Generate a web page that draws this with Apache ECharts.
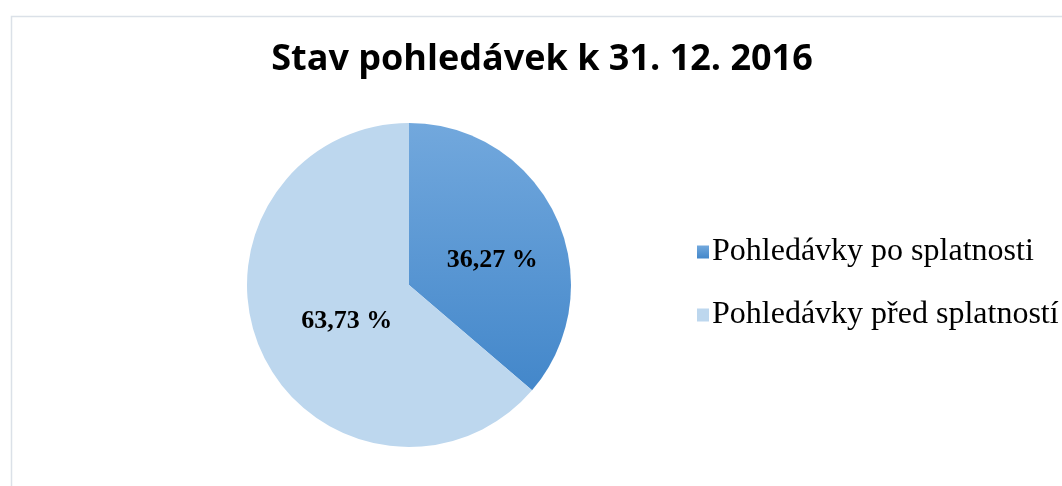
<!DOCTYPE html>
<html>
<head>
<meta charset="utf-8">
<script src="https://cdn.jsdelivr.net/npm/echarts@6/dist/echarts.min.js"></script>
<style>
  html, body { margin: 0; padding: 0; background: #fff; }
  #chart { width: 1062px; height: 486px; }
</style>
</head>
<body>
<div id="chart"></div>
<script>
// data
var categories = ['Pohledávky po splatnosti', 'Pohledávky před splatností'];
var shares = [36.27, 63.73];
var labelOffsets = [[7, 10], [14, 1]];

var myChart = echarts.init(document.getElementById('chart'));

var sliceColors = [
    new echarts.graphic.LinearGradient(0, 0, 0, 1, [
        {offset: 0, color: '#72a8dd'},
        {offset: 1, color: '#4387ca'}
    ]),
    '#bdd7ee'
];

var pieData = [];
for (var i = 0; i < categories.length; i++) {
    pieData.push({
        name: categories[i],
        value: shares[i],
        itemStyle: {color: sliceColors[i]},
        label: {offset: labelOffsets[i]}
    });
}

var option = {
    animation: false,
    backgroundColor: '#fff',
    title: {
        text: 'Stav pohledávek k 31. 12. 2016',
        left: 537,
        textAlign: 'center',
        top: 37,
        textStyle: {
            fontFamily: 'Open Sans',
            fontWeight: 'bold',
            fontSize: 36,
            color: '#000'
        }
    },
    graphic: [{
        type: 'rect',
        left: 9,
        top: 14,
        shape: {width: 1100, height: 520},
        style: {fill: 'none', stroke: '#dbe1e8', lineWidth: 1.5},
        silent: true
    }],
    legend: {
        orient: 'vertical',
        left: 692,
        top: 230,
        icon: 'rect',
        itemWidth: 12,
        itemHeight: 13,
        itemGap: 29,
        data: categories,
        textStyle: {
            fontFamily: 'Liberation Serif',
            fontSize: 32,
            lineHeight: 34,
            color: '#000',
            padding: [0, 0, 0, -2]
        }
    },
    series: [{
        type: 'pie',
        center: [409, 285],
        radius: [0, 162],
        startAngle: 90,
        clockwise: true,
        data: pieData,
        label: {
            show: true,
            position: 'inside',
            formatter: function (p) {
                return p.value.toFixed(2).replace('.', ',') + ' %';
            },
            fontFamily: 'Liberation Serif',
            fontWeight: 'bold',
            fontSize: 26,
            color: '#000'
        },
        labelLine: {show: false},
        emphasis: {disabled: true}
    }]
};

option && myChart.setOption(option);
</script>
</body>
</html>
